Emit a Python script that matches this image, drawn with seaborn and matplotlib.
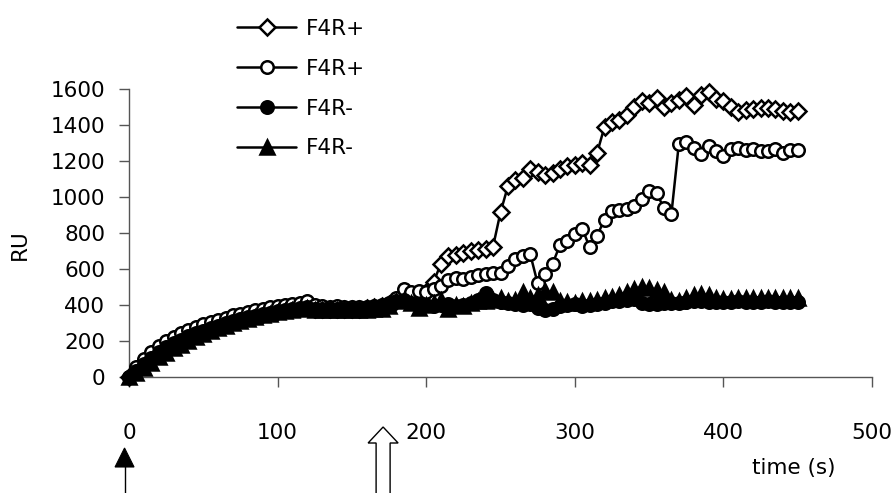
import matplotlib
matplotlib.use("Agg")
import matplotlib.pyplot as plt
import seaborn as sns
import pandas as pd
from matplotlib.patches import Polygon
from matplotlib.lines import Line2D

# ---------------- data ----------------
time_s = [0, 5, 10, 15, 20, 25, 30, 35, 40, 45, 50, 55, 60, 65, 70, 75, 80, 85, 90, 95,
          100, 105, 110, 115, 120, 125, 130, 135, 140, 145, 150, 155, 160, 165, 170, 175,
          180, 185, 190, 195, 200, 205, 210, 215, 220, 225, 230, 235, 240, 245, 250, 255,
          260, 265, 270, 275, 280, 285, 290, 295, 300, 305, 310, 315, 320, 325, 330, 335,
          340, 345, 350, 355, 360, 365, 370, 375, 380, 385, 390, 395, 400, 405, 410, 415,
          420, 425, 430, 435, 440, 445, 450]

f4r_plus_a = [0, 35, 75, 108, 138, 165, 188, 208, 226, 242, 258, 272, 286, 298, 310, 321, 331,
              341, 350, 358, 366, 373, 379, 384, 390,
              380, 378, 378, 380, 378, 378, 380, 385, 390,
              395, 405, 425, 440, 450, 455, 470,
              530, 630, 670, 680, 690, 700, 705, 710, 725,
              915, 1060, 1095, 1105, 1155, 1140, 1120, 1133, 1155, 1175, 1180, 1188, 1178,
              1245, 1390, 1415, 1428, 1455, 1500, 1535, 1520, 1548, 1500, 1520, 1538, 1560,
              1512, 1565, 1585, 1545, 1532, 1500, 1475, 1485, 1490, 1495, 1497, 1487, 1480,
              1475, 1478]

f4r_plus_b = [0, 55, 100, 140, 175, 200, 225, 245, 262, 278, 292, 305, 318, 330, 342, 352, 362,
              372, 380, 388, 395, 402, 408, 413, 425,
              398, 392, 390, 392, 390, 390, 388, 390, 392,
              400, 410, 440, 490, 470, 480, 470,
              490, 505, 540, 548, 545, 555, 565, 575, 578,
              580, 615, 655, 675, 683, 520, 570, 628, 733, 756, 795, 825, 720,
              785, 875, 920, 930, 935, 950, 990, 1035, 1020, 940, 905, 1295, 1305, 1275,
              1240, 1285, 1255, 1230, 1265, 1270, 1262, 1265, 1255, 1258, 1265, 1245, 1262,
              1262]

f4r_minus_a = [0, 35, 75, 108, 138, 165, 188, 208, 226, 242, 258, 272, 286, 298, 310, 321, 331,
               341, 350, 358, 366, 373, 379, 384, 390,
               380, 378, 378, 380, 378, 378, 380, 385, 390,
               395, 400, 420, 430, 410, 405, 400,
               395, 400, 405, 395, 400, 410, 430, 465, 430,
               415, 410, 405, 400, 405, 385, 375, 380, 395, 400, 405, 395, 400,
               405, 410, 420, 425, 430, 435, 410, 405, 408, 410, 412, 412, 415, 420, 420,
               418, 415, 415, 418, 420, 418, 415, 418, 420, 418, 415, 418, 418]

f4r_minus_b = [0, 20, 50, 80, 110, 135, 160, 180, 200, 220, 240, 255, 270, 285, 298, 310, 322,
               333, 343, 352, 360, 367, 373, 378, 382,
               372, 370, 372, 370, 372, 370, 372, 375, 380,
               380, 395, 420, 430, 410, 385, 400,
               410, 430, 380, 400, 395, 410, 420, 425, 430,
               440, 420, 430, 470, 440, 455, 480, 470, 420, 415, 410, 420, 425,
               430, 440, 445, 455, 475, 490, 500, 495, 485, 470, 430, 425, 440, 455, 460,
               455, 440, 435, 435, 438, 440, 438, 440, 440, 438, 440, 440, 440]

series_labels = ["F4R+", "F4R+", "F4R-", "F4R-"]
x_ticks = [0, 100, 200, 300, 400, 500]
y_ticks = [0, 200, 400, 600, 800, 1000, 1200, 1400, 1600]

# injection markers below the axis (time in s)
arrow_start_t = -3
arrow_wash_t = 171

# ---------------- figure ----------------
sns.set_theme(style="white")
plt.rcParams["font.family"] = ["DejaVu Sans"]
plt.rcParams["text.color"] = "black"

FS = 15.5
W, H = 896, 493
fig = plt.figure(figsize=(W / 100, H / 100), dpi=100)
ax = fig.add_axes([129 / W, 1 - 377 / H, (872 - 129) / W, (377 - 89) / H])

series = [f4r_plus_a, f4r_plus_b, f4r_minus_a, f4r_minus_b]
styles = [
    dict(marker="D", markerfacecolor="white", markersize=8.5),
    dict(marker="o", markerfacecolor="white", markersize=9),
    dict(marker="o", markerfacecolor="black", markersize=9),
    dict(marker="^", markerfacecolor="black", markersize=10),
]

handles = []
for i, (vals, st) in enumerate(zip(series, styles)):
    df = pd.DataFrame({"t": time_s, "RU": vals})
    sns.lineplot(data=df, x="t", y="RU", ax=ax, color="black", linewidth=1.8,
                 markeredgecolor="black", markeredgewidth=1.8, estimator=None,
                 sort=False, clip_on=False, zorder=3 + i, **st)
    handles.append(Line2D([0], [0], color="black", linewidth=1.8,
                          markeredgecolor="black", markeredgewidth=1.8, **st))

ax.set_xlim(0, 500)
ax.set_ylim(0, 1600)
ax.set_xticks(x_ticks)
ax.set_yticks(y_ticks)
ax.set_xticklabels([str(v) for v in x_ticks])
ax.set_yticklabels([str(v) for v in y_ticks])
ax.set_xlabel("")
ax.set_ylabel("RU", fontsize=FS, color="black")
ax.yaxis.set_label_coords((30 - 129) / (872 - 129), 0.46)

for side in ["top", "right"]:
    ax.spines[side].set_visible(False)
for side in ["left", "bottom"]:
    ax.spines[side].set_color("#555555")
    ax.spines[side].set_linewidth(1.0)

ax.tick_params(axis="x", direction="out", length=7, width=1, color="#555555",
               labelsize=FS, labelcolor="black", pad=26, bottom=True)
ax.tick_params(axis="y", direction="out", length=7, width=1, color="#555555",
               labelsize=FS, labelcolor="black", pad=10, left=True)

fig.legend(handles, series_labels, loc="upper left",
           bbox_to_anchor=(237 / W, 1 - 19 / H), frameon=False, fontsize=FS,
           handlelength=2.75, handletextpad=0.45, labelspacing=0.92,
           borderpad=0, borderaxespad=0)

fig.text(794 / W, 1 - 468 / H, "time (s)", fontsize=FS, ha="center", va="center")

# ---- arrows below the axis (drawn in figure pixels) ----
fig.canvas.draw()


def fx(px):
    return px / W


def fy(py):
    return 1 - py / H


xs = ax.transData.transform((arrow_start_t, 0))[0]
xw = ax.transData.transform((arrow_wash_t, 0))[0]

# filled arrow (injection start)
fig.add_artist(Line2D([fx(xs), fx(xs)], [fy(495), fy(466)], color="black",
                      linewidth=1.0, transform=fig.transFigure))
fig.add_artist(Polygon([(fx(xs - 9.5), fy(467)), (fx(xs), fy(448)), (fx(xs + 9.5), fy(467))],
                       closed=True, facecolor="black", edgecolor="black", linewidth=0.8,
                       transform=fig.transFigure))

# hollow block arrow (wash)
pts = [(xw - 7, 496), (xw - 7, 443), (xw - 15, 443), (xw, 427), (xw + 15, 443),
       (xw + 7, 443), (xw + 7, 496)]
fig.add_artist(Polygon([(fx(a), fy(b)) for a, b in pts], closed=False,
                       facecolor="white", edgecolor="black", linewidth=1.0,
                       transform=fig.transFigure))

fig.savefig("out.png", dpi=100)
